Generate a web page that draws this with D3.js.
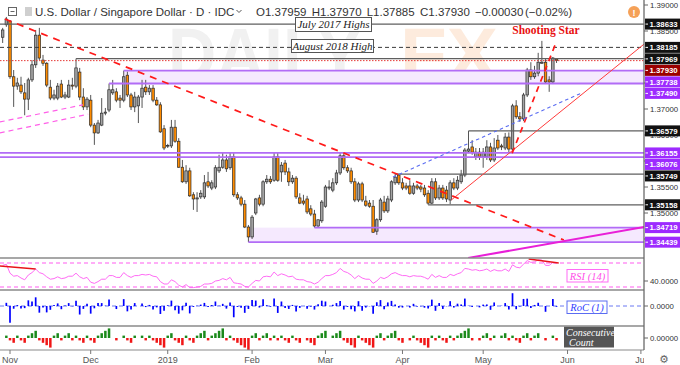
<!DOCTYPE html>
<html><head><meta charset="utf-8">
<script src="https://cdn.jsdelivr.net/npm/d3@7/dist/d3.min.js"></script>
<style>
html,body{margin:0;padding:0;background:#fff;}
svg{display:block;}
</style></head><body>
<svg id="chart" width="680" height="365"></svg>
<script>
// ---------------- DATA ----------------
// daily candles, trading-day index starting at -2 (Oct 30, 2018); index 0 = Nov 1, 2018
const firstIndex = -2;
const opens = [
1.3838,1.3862,1.3869,1.3762,1.3744,1.3746,1.3731,1.3719,1.3756,1.3785,
1.3842,1.3794,1.3788,1.3742,1.3721,1.3721,1.3748,1.3723,1.3723,1.3746,
1.3744,1.3771,1.3723,1.3704,1.3717,1.3669,1.3654,1.3669,1.3692,1.3698,
1.3731,1.3733,1.3721,1.3717,1.3765,1.3727,1.3704,1.3706,1.3723,1.3742,
1.3733,1.3740,1.3717,1.3708,1.3662,1.3629,1.3629,1.3665,1.3638,1.3588,
1.3560,1.3581,1.3535,1.3527,1.3531,1.3531,1.3560,1.3548,1.3550,1.3581,
1.3588,1.3602,1.3587,1.3608,1.3535,1.3529,1.3517,1.3473,1.3454,1.3500,
1.3529,1.3517,1.3560,1.3565,1.3563,1.3608,1.3579,1.3596,1.3579,1.3560,
1.3567,1.3529,1.3523,1.3527,1.3508,1.3498,1.3475,1.3485,1.3513,1.3548,
1.3544,1.3558,1.3577,1.3610,1.3587,1.3581,1.3560,1.3525,1.3556,1.3523,
1.3519,1.3513,1.3465,1.3487,1.3521,1.3504,1.3525,1.3558,1.3573,1.3558,
1.3552,1.3552,1.3538,1.3552,1.3550,1.3548,1.3538,1.3519,1.3560,1.3529,
1.3548,1.3544,1.3525,1.3558,1.3548,1.3560,1.3573,1.3619,1.3627,1.3608,
1.3617,1.3608,1.3608,1.3627,1.3602,1.3640,1.3629,1.3625,1.3646,1.3623,
1.3706,1.3685,1.3681,1.3727,1.3775,1.3762,1.3769,1.3788,1.3790,1.3756,
1.3752,1.37959];
const highs = [
1.3856,1.3877,1.3871,1.3775,1.3760,1.3762,1.3750,1.3760,1.3794,1.3852,
1.3856,1.3804,1.3790,1.3756,1.3737,1.3750,1.3756,1.3733,1.3756,1.3760,
1.37969,1.3779,1.3740,1.3723,1.3727,1.3673,1.3679,1.3721,1.3702,1.3749,
1.3756,1.3740,1.3727,1.37738,1.3772,1.3731,1.3733,1.3727,1.3756,1.3756,
1.3746,1.3746,1.3723,1.3713,1.3669,1.3633,1.3679,1.3679,1.3644,1.3602,
1.3592,1.3587,1.3540,1.3540,1.3544,1.3573,1.3579,1.3563,1.3592,1.3612,
1.3617,1.3612,1.3617,1.3615,1.3540,1.3533,1.3525,1.3477,1.3496,1.3529,
1.3535,1.3563,1.3573,1.3571,1.3617,1.3617,1.3598,1.3602,1.3587,1.3573,
1.3571,1.3538,1.3535,1.3533,1.3515,1.3506,1.3487,1.3525,1.3554,1.3563,
1.3567,1.3583,1.3617,1.3615,1.3592,1.3587,1.3567,1.3560,1.3560,1.3533,
1.3525,1.3525,1.3490,1.3529,1.3533,1.3533,1.3563,1.35749,1.3574,1.3567,
1.3558,1.3563,1.3558,1.3556,1.3554,1.3554,1.3544,1.3567,1.3567,1.3554,
1.3554,1.3552,1.3563,1.3567,1.3571,1.3583,1.3625,1.36579,1.3640,1.3625,
1.3625,1.3625,1.3640,1.3635,1.3644,1.3650,1.3633,1.3654,1.3655,1.3710,
1.3717,1.3694,1.3731,1.3779,1.3790,1.3783,1.3808,1.3831,1.3796,1.3763,
1.3800,1.37970];
const lows = [
1.3827,1.3858,1.3758,1.3704,1.3737,1.3729,1.3688,1.3698,1.3752,1.3779,
1.3794,1.3783,1.3742,1.3717,1.3717,1.3717,1.3721,1.3719,1.3721,1.3737,
1.3740,1.3717,1.3698,1.3698,1.3665,1.3631,1.3652,1.3667,1.3688,1.3694,
1.3727,1.3713,1.3702,1.3713,1.3723,1.3698,1.3694,1.3673,1.3702,1.3727,
1.3727,1.3713,1.3706,1.3654,1.3621,1.3625,1.3625,1.3635,1.3587,1.3558,
1.3556,1.3531,1.3506,1.3502,1.3527,1.3527,1.3548,1.3544,1.3546,1.3577,
1.3585,1.3579,1.3583,1.3531,1.3525,1.3513,1.3471,1.34439,1.3450,1.3496,
1.3513,1.3513,1.3556,1.3556,1.3560,1.3560,1.3560,1.3573,1.3552,1.3556,
1.3527,1.3517,1.3515,1.3498,1.3494,1.34719,1.3472,1.3481,1.3510,1.3544,
1.3540,1.3554,1.3573,1.3583,1.3577,1.3556,1.3521,1.3521,1.3521,1.3512,
1.3510,1.3462,1.3458,1.3483,1.3500,1.3500,1.3521,1.3554,1.3554,1.3544,
1.3544,1.3535,1.3535,1.3544,1.3540,1.3531,1.35158,1.3517,1.3525,1.3525,
1.3525,1.3521,1.3517,1.3544,1.3544,1.3556,1.3569,1.3615,1.3612,1.3602,
1.3602,1.3587,1.3602,1.3598,1.3598,1.3621,1.3621,1.3621,1.3617,1.3619,
1.3681,1.3675,1.3677,1.3723,1.3756,1.3758,1.3763,1.3787,1.3748,1.3733,
1.3748,1.37885];
const closes = [
1.3852,1.3873,1.3762,1.3744,1.3750,1.3733,1.3719,1.3756,1.3785,1.3842,
1.3798,1.3788,1.3746,1.3721,1.3727,1.3744,1.3723,1.3727,1.3746,1.3744,
1.3779,1.3723,1.3704,1.3719,1.3669,1.3654,1.3673,1.3692,1.3694,1.3737,
1.3737,1.3717,1.3717,1.3762,1.3727,1.3704,1.3723,1.3723,1.3740,1.3733,
1.3740,1.3717,1.3708,1.3656,1.3625,1.3630,1.3665,1.3638,1.3588,1.3560,
1.3581,1.3533,1.3527,1.3529,1.3538,1.3558,1.3552,1.3558,1.3587,1.3588,
1.3602,1.3585,1.3608,1.3535,1.3529,1.3517,1.3473,1.3454,1.3492,1.3527,
1.3517,1.3560,1.3565,1.3560,1.3608,1.3563,1.3592,1.3579,1.3560,1.3567,
1.3531,1.3519,1.3519,1.3502,1.3498,1.3475,1.3487,1.3521,1.3550,1.3550,
1.3558,1.3577,1.3610,1.3587,1.3581,1.3560,1.3525,1.3556,1.3525,1.3515,
1.3513,1.3463,1.3487,1.3525,1.3504,1.3527,1.3560,1.3569,1.3558,1.3548,
1.3548,1.3538,1.3552,1.3548,1.3546,1.3535,1.3519,1.3560,1.3529,1.3548,
1.3529,1.3527,1.3558,1.3548,1.3563,1.3573,1.3621,1.3623,1.3617,1.3617,
1.3608,1.3617,1.3627,1.3602,1.3625,1.3625,1.3627,1.3646,1.3623,1.3706,
1.3685,1.3681,1.3727,1.3775,1.3762,1.3769,1.3790,1.3790,1.3752,1.3752,
1.3798,1.37930];
// RSI(14), one value per candle
const rsiValues = [
66,68,53,48,49,45,42,50,54,60,54,52,
47,43,44,47,44,45,48,48,53,47,
44,46,38,36,39,43,43,49,49,46,
46,54,49,46,49,49,51,50,51,48,
47,39,35,35,42,39,33,30,34,29,
29,30,31,35,35,36,40,41,44,42,
46,37,36,35,31,30,36,41,40,47,
48,47,55,49,52,50,47,48,43,42,
42,39,38,35,38,44,49,49,51,54,
61,56,54,50,44,49,45,43,43,36,
40,46,44,47,52,54,51,49,49,47,
49,48,48,46,43,51,46,49,46,46,
51,49,52,54,61,60,58,59,57,58,
60,56,59,57,57,60,56,67,63,62,
68,74,71,72,75,75,66,66,71,70];
const monthLabels = ["Nov","Dec","2019","Feb","Mar","Apr","May","Jun","Jul"];
const monthIndex  = [0,22,43,66,86,107,129,152,172];
const priceTicks  = [1.390,1.385,1.380,1.375,1.370,1.365,1.360,1.355,1.350,1.345];
// horizontal levels: value, first index, kind
const levelValues = [1.38633,1.38185,1.37969,1.37930,1.37738,1.37490,1.36579,1.36155,1.36076,1.35749,1.35158,1.34719,1.34439];
const levelFrom   = [-3,-3,18,-3,31,27,125,-3,-3,105,114,83,65];
const levelKind   = ["high","dash","high","last","zone","zone","high","zone","zone","high","high","zone","zone"];
const zoneBands   = [[1.37738,1.37490,31],[1.34719,1.34439,65]];
// trend lines: [index1, price1, index2, price2]
const trendLines = [
  [-1.4,1.3873,151,1.3448],
  [120.3,1.3525,172.9,1.3825],
  [136.9,1.3615,148.6,1.3823],
  [104.4,1.3569,155.9,1.3731],
  [-2.8,1.3675,19.9,1.3708],
  [-2.8,1.3654,21.3,1.3690],
  [124.9,1.34135,172.9,1.34731]];
const trendKind = ["down","support","steep","channel","pink","pink","magenta"];
const rsiLines = [[-2.8,65,7,60],[141.4,76.5,149.6,70]];
const rsiLevels = [70,30];
const rsiTick = 40;
const titleText = "U.S. Dollar / Singapore Dollar · D · IDC";
const ohlcTexts = ["O1.37959","H1.37970","L1.37885","C1.37930","\u22120.00030","(\u22120.02%)"];
const noteHighs = ["July 2017 Highs","August 2018 High"];

// ---------------- CHART ----------------
const svg = d3.select("#chart");
const PR = 644;
const SANS = "'Liberation Sans', Arial, sans-serif";
const SERIF = "'Liberation Serif', 'Times New Roman', serif";
const x = d3.scaleLinear().domain([0,172]).range([10,640.9]);
const y = d3.scaleLinear().domain([1.35,1.37]).range([213,109]);
const yR = d3.scaleLinear().domain([30,70]).range([287,263]);
const yRoc = d3.scaleLinear().domain([0,1]).range([306,285]);
const yCnt = d3.scaleLinear().domain([0,1]).range([338,335.6]);

const idx = closes.map((_,k)=>k+firstIndex);
const candles = idx.map((i,k)=>({i,o:opens[k],h:highs[k],l:lows[k],c:closes[k]}));
// indicators derived from the close series (RoC(1) and consecutive count)
const roc = candles.map((d,k)=> k===0 ? null : {i:d.i, v:(d.c-candles[k-1].c)/candles[k-1].c*100});
let run=0; const cnt = candles.map((d,k)=>{
  if(k===0) return null;
  const p=candles[k-1].c;
  if(d.c>p) run = run>0?run+1:1; else if(d.c<p) run = run<0?run-1:-1; else run=0;
  return {i:d.i, v:run};
});

const defs = svg.append("defs");
function clip(id,x0,y0,w,h){defs.append("clipPath").attr("id",id).append("rect").attr("x",x0).attr("y",y0).attr("width",w).attr("height",h);}
clip("cp",0,0,PR,258); clip("cr",0,258,PR,32); clip("cc",0,290,PR,36); clip("cn",0,326,PR,24); clip("cx",0,350,PR,15);

svg.append("rect").attr("width",680).attr("height",365).attr("fill","#fff");

// ---- price panel
const gp = svg.append("g").attr("clip-path","url(#cp)");
gp.append("text").attr("x",168).attr("y",80).attr("font-family",SANS).attr("font-weight","bold")
  .attr("font-size",74).attr("fill","#f1f1f1").attr("textLength",194).attr("lengthAdjust","spacingAndGlyphs").text("DAILY");
gp.append("text").attr("x",400).attr("y",80).attr("font-family",SANS).attr("font-weight","bold")
  .attr("font-size",74).attr("fill","#fdebdd").attr("textLength",98).attr("lengthAdjust","spacingAndGlyphs").text("FX");

zoneBands.forEach(b=>{
  gp.append("rect").attr("x",x(b[2])).attr("y",y(b[0])).attr("width",PR-x(b[2])).attr("height",y(b[1])-y(b[0])).attr("fill","#f5e9fe");
});

const bw=2.5;
const gc = gp.append("g");
gc.selectAll("line.w").data(candles).join("line").attr("class","w")
  .attr("x1",d=>x(d.i)).attr("x2",d=>x(d.i)).attr("y1",d=>y(d.h)).attr("y2",d=>y(d.l))
  .attr("stroke","#555").attr("stroke-width",1);
gc.selectAll("rect.b").data(candles).join("rect").attr("class","b")
  .attr("x",d=>x(d.i)-bw/2).attr("width",bw)
  .attr("y",d=>Math.min(y(d.o),y(d.c))).attr("height",d=>Math.max(0.8,Math.abs(y(d.o)-y(d.c))))
  .attr("fill",d=>d.c>=d.o?"#a4a4a4":"#ff8c00").attr("stroke","#2a2a2a").attr("stroke-width",0.7);

const lvlStyle = {high:["#5f5f5f",1.2,null],dash:["#3a3a3a",1,"4,3"],last:["#e53935",1,"1.5,1.5"],zone:["#b26cf6",1.8,null]};
levelValues.forEach((v,k)=>{
  const s=lvlStyle[levelKind[k]];
  gp.append("line").attr("x1",Math.max(0,x(levelFrom[k]))).attr("x2",PR).attr("y1",y(v)).attr("y2",y(v))
    .attr("stroke",s[0]).attr("stroke-width",s[1]).attr("stroke-dasharray",s[2]);
});
const tlStyle = {down:["#ff1a1a",1.7,"7,6"],support:["#ff3b3b",1,null],steep:["#ff1a1a",1.7,"6,5"],
  channel:["#5a6cf2",1.1,"3.5,3"],pink:["#ff5fe8",1.2,"5,4"],magenta:["#e81fd8",2,null]};
trendLines.forEach((t,k)=>{
  const s=tlStyle[trendKind[k]];
  gp.append("line").attr("x1",x(t[0])).attr("y1",y(t[1])).attr("x2",x(t[2])).attr("y2",y(t[3]))
    .attr("stroke",s[0]).attr("stroke-width",s[1]).attr("stroke-dasharray",s[2]);
});

// notes
function noteBox(txt,x0,y0,w,h){
  svg.append("rect").attr("x",x0).attr("y",y0).attr("width",w).attr("height",h).attr("fill","#fff").attr("stroke","#555").attr("stroke-width",1);
  svg.append("text").attr("x",x0+w/2).attr("y",y0+h/2+3.8).attr("text-anchor","middle").attr("font-family",SERIF)
    .attr("font-style","italic").attr("font-size",11).attr("fill","#222").text(txt);
}
noteBox(noteHighs[0],295.5,17.5,76,14);
noteBox(noteHighs[1],291.5,39.5,82,13);
svg.append("text").attr("x",546).attr("y",34).attr("text-anchor","middle").attr("font-family",SERIF)
  .attr("font-weight","bold").attr("font-size",11.5).attr("fill","#e81010").text("Shooting Star");

// ---- RSI panel
const gr = svg.append("g").attr("clip-path","url(#cr)");
rsiLevels.forEach(v=>gr.append("line").attr("x1",0).attr("x2",PR).attr("y1",yR(v)).attr("y2",yR(v))
  .attr("stroke","#ff5cf0").attr("stroke-width",1.2).attr("stroke-dasharray","4,3"));
gr.append("path").datum(candles.map((d,k)=>[d.i,rsiValues[k]]))
  .attr("d",d3.line().x(d=>x(d[0])).y(d=>yR(d[1]))).attr("fill","none").attr("stroke","#ff6bf5").attr("stroke-width",1);
rsiLines.forEach(t=>gr.append("line").attr("x1",x(t[0])).attr("y1",yR(t[1])).attr("x2",x(t[2])).attr("y2",yR(t[3]))
  .attr("stroke","#e8141a").attr("stroke-width",1.5));
svg.append("rect").attr("x",567).attr("y",269.5).attr("width",41).attr("height",12.5).attr("fill","#fff").attr("stroke","#ff6bf5");
svg.append("text").attr("x",587.5).attr("y",279.5).attr("text-anchor","middle").attr("font-family",SERIF).attr("font-style","italic")
  .attr("font-size",10.5).attr("fill","#ff4fe9").text("RSI (14)");

// ---- RoC panel
const gk = svg.append("g").attr("clip-path","url(#cc)");
gk.append("line").attr("x1",0).attr("x2",PR).attr("y1",yRoc(0)).attr("y2",yRoc(0)).attr("stroke","#6a78f2").attr("stroke-dasharray","4,3");
gk.selectAll("line.r").data(roc.filter(d=>d)).join("line").attr("class","r")
  .attr("x1",d=>x(d.i)).attr("x2",d=>x(d.i)).attr("y1",yRoc(0)).attr("y2",d=>yRoc(d.v))
  .attr("stroke","#0000ff").attr("stroke-width",1.7);
svg.append("rect").attr("x",567).attr("y",301).attr("width",40).attr("height",12.5).attr("fill","#fff").attr("stroke","#5a6cf2");
svg.append("text").attr("x",587).attr("y",311).attr("text-anchor","middle").attr("font-family",SERIF).attr("font-style","italic")
  .attr("font-size",10.5).attr("fill","#3040ff").text("RoC (1)");

// ---- consecutive count panel
const gn = svg.append("g").attr("clip-path","url(#cn)");
gn.selectAll("rect.n").data(cnt.filter(d=>d&&d.v!==0)).join("rect").attr("class","n")
  .attr("x",d=>x(d.i)-1.25).attr("width",2.5)
  .attr("y",d=>Math.min(yCnt(0),yCnt(d.v))).attr("height",d=>Math.abs(yCnt(d.v)-yCnt(0)))
  .attr("fill",d=>d.v>0?"#1b8a1b":"#f01616");
svg.append("rect").attr("x",564).attr("y",326.5).attr("width",50).attr("height",21).attr("fill","#555");
svg.append("text").attr("x",566).attr("y",336).attr("font-family",SERIF).attr("font-style","italic").attr("font-size",10).attr("fill","#fff").text("Consecutive");
svg.append("text").attr("x",569).attr("y",345.5).attr("font-family",SERIF).attr("font-style","italic").attr("font-size",10).attr("fill","#fff").text("Count");

// ---- separators & axes
[258,290,326].forEach(v=>svg.append("line").attr("x1",0).attr("x2",PR).attr("y1",v).attr("y2",v).attr("stroke","#8a8a8a").attr("stroke-width",1.5));
svg.append("line").attr("x1",0).attr("x2",PR).attr("y1",350).attr("y2",350).attr("stroke","#8a8a8a").attr("stroke-width",1.2);
svg.append("line").attr("x1",PR).attr("x2",PR).attr("y1",0).attr("y2",350).attr("stroke","#6a6a6a").attr("stroke-width",1.3);

const gx = svg.append("g").attr("clip-path","url(#cx)");
monthIndex.forEach((m,k)=>{
  gx.append("line").attr("x1",x(m)).attr("x2",x(m)).attr("y1",350).attr("y2",354).attr("stroke","#777");
  gx.append("text").attr("x",x(m)).attr("y",363).attr("text-anchor","middle").attr("font-family",SANS)
    .attr("font-size",9).attr("fill","#555").text(monthLabels[k]);
});
svg.append("text").attr("x",664).attr("y",362.5).attr("text-anchor","middle").attr("font-family","'DejaVu Sans'")
  .attr("font-size",11).attr("fill","#666").text("\u2699");

const fmt = d3.format(".5f");
const AXF = 7.8;
const boxFill = {high:"#111",dash:"#111",last:"#9b0000",zone:"#9d2bff"};
const lab = levelValues.map((v,k)=>({v,k,yy:y(v)})).sort((a,b)=>a.yy-b.yy);
let prev=-1e9; lab.forEach(d=>{d.ly=Math.max(d.yy,prev+11.5); prev=d.ly;});
priceTicks.forEach(v=>{
  const ty=y(v);
  const hidden = lab.some(b=>Math.abs(b.ly-ty)<4);
  svg.append("line").attr("x1",PR).attr("x2",PR+4).attr("y1",ty).attr("y2",ty).attr("stroke","#666");
  if(!hidden) svg.append("text").attr("x",650).attr("y",ty+2.8).attr("font-family",SANS).attr("font-size",AXF).attr("fill","#333").text(fmt(v));
});
[[yR(rsiTick),"40.0000"],[yRoc(0),"0.0000"],[yCnt(0),"0.00000"]].forEach(t=>{
  svg.append("line").attr("x1",PR).attr("x2",PR+4).attr("y1",t[0]).attr("y2",t[0]).attr("stroke","#666");
  svg.append("text").attr("x",650).attr("y",t[0]+2.8).attr("font-family",SANS).attr("font-size",AXF).attr("fill","#333").text(t[1]);
});
lab.forEach(d=>{
  svg.append("rect").attr("x",645).attr("y",d.ly-5.5).attr("width",35).attr("height",11).attr("fill",boxFill[levelKind[d.k]]);
  svg.append("line").attr("x1",645.5).attr("x2",648).attr("y1",d.ly).attr("y2",d.ly).attr("stroke","#fff");
  svg.append("text").attr("x",649.5).attr("y",d.ly+2.8).attr("font-family",SANS).attr("font-weight","bold")
    .attr("font-size",AXF).attr("fill","#fff").text(fmt(d.v));
});

// ---- header
svg.append("rect").attr("x",8.5).attr("y",7.5).attr("width",8).attr("height",8).attr("fill","#fff").attr("stroke","#666");
svg.append("line").attr("x1",10.5).attr("x2",14.5).attr("y1",11.5).attr("y2",11.5).attr("stroke","#666");
svg.append("rect").attr("x",25).attr("y",7).attr("width",7).attr("height",9).attr("fill","#cfcfcf");
svg.append("text").attr("x",35).attr("y",16).attr("font-family",SANS).attr("font-size",11.5).attr("fill","#333").text(titleText);
svg.append("path").attr("d","M236.5,10 l2.5,2.5 l2.5,-2.5").attr("fill","none").attr("stroke","#555");
const ohlcX = [256,311.7,366.7,420,475,525];
ohlcTexts.forEach((t,k)=>svg.append("text").attr("x",ohlcX[k]).attr("y",16).attr("font-family",SANS)
  .attr("font-size",11.5).attr("fill","#333").text(t));
svg.append("circle").attr("cx",634).attr("cy",12).attr("r",6).attr("fill","#f5a158");
svg.append("text").attr("x",634).attr("y",15.5).attr("text-anchor","middle").attr("font-family",SANS)
  .attr("font-weight","bold").attr("font-size",9).attr("fill","#fff").text("!");
</script>
</body></html>
